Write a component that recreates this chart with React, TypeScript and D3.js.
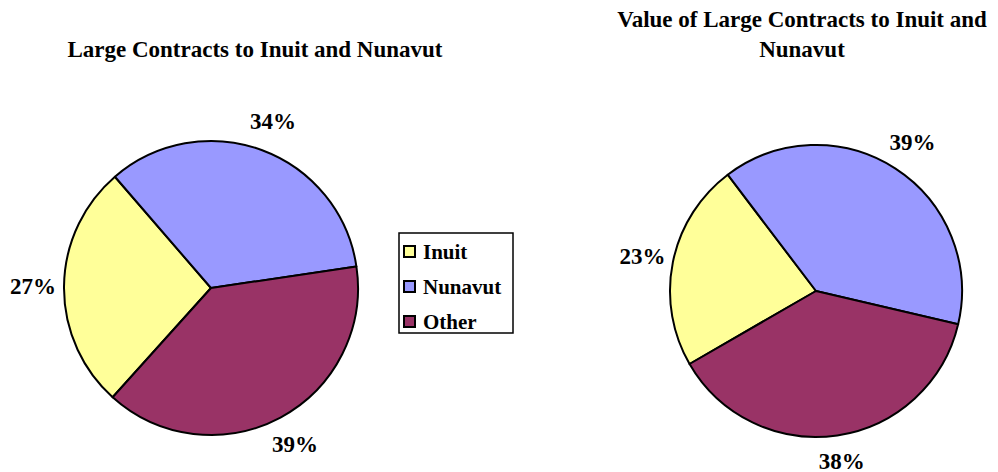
import * as d3 from 'd3';

const categories = ['Inuit', 'Nunavut', 'Other'];
const countShares = [27, 34, 39];
const valueShares = [23, 39, 38];
const colors = ['#FFFF99', '#9999FF', '#993366'];

const W = 998;
const H = 472;
const font = '"Liberation Serif", "Times New Roman", serif';

type PieProps = {
    values: number[];
    cx: number;
    cy: number;
    r: number;
    rotate: number; // degrees, where the first slice starts
};

function Pie({ values, cx, cy, r, rotate }: PieProps) {
    const a0 = (rotate * Math.PI) / 180;
    const pie = d3
        .pie<number>()
        .sort(null)
        .value((d) => d)
        .startAngle(a0)
        .endAngle(a0 + 2 * Math.PI);
    const arcs = pie(values);
    const arc = d3.arc<d3.PieArcDatum<number>>().innerRadius(0).outerRadius(r);
    const labelArc = d3
        .arc<d3.PieArcDatum<number>>()
        .innerRadius(r + 31)
        .outerRadius(r + 31);
    // keep labels inside the plot area, like Excel does
    const maxY = H - cy - 11;

    return (
        <g transform={`translate(${cx},${cy})`}>
            {arcs.map((d, i) => (
                <path key={i} d={arc(d) || ''} fill={colors[i]} stroke="#000" strokeWidth={2} strokeLinejoin="round" />
            ))}
            {arcs.map((d, i) => {
                const [x, y] = labelArc.centroid(d);
                return (
                    <text
                        key={`l${i}`}
                        x={x}
                        y={Math.min(y, maxY)}
                        textAnchor="middle"
                        dominantBaseline="central"
                        fontSize={23}
                        fontWeight="bold"
                        fontFamily={font}
                    >
                        {d3.format('.0%')(d.data / d3.sum(values))}
                    </text>
                );
            })}
        </g>
    );
}

export default function App() {
    return (
        <svg width={W} height={H} style={{ display: 'block', position: 'absolute', left: 0, top: 0, background: '#fff' }}>
            {/* left chart */}
            <text x={255} y={57} textAnchor="middle" fontSize={23} fontWeight="bold" fontFamily={font}>
                Large Contracts to Inuit and Nunavut
            </text>
            <Pie values={countShares} cx={211} cy={288} r={147} rotate={222} />

            {/* right chart */}
            <text textAnchor="middle" fontSize={23} fontWeight="bold" fontFamily={font}>
                <tspan x={802} y={27}>
                    Value of Large Contracts to Inuit and
                </tspan>
                <tspan x={802} y={57}>
                    Nunavut
                </tspan>
            </text>
            <Pie values={valueShares} cx={816} cy={291} r={146} rotate={240} />

            {/* legend */}
            <rect x={399} y={233} width={114} height={100} fill="#fff" stroke="#000" strokeWidth={1.5} />
            {categories.map((c, i) => {
                const y = 252 + i * 35;
                return (
                    <g key={c}>
                        <rect x={404} y={y - 6} width={11} height={11} fill={colors[i]} stroke="#000" strokeWidth={2} />
                        <text x={423} y={y} dominantBaseline="central" fontSize={21} fontWeight="bold" fontFamily={font}>
                            {c}
                        </text>
                    </g>
                );
            })}
        </svg>
    );
}
